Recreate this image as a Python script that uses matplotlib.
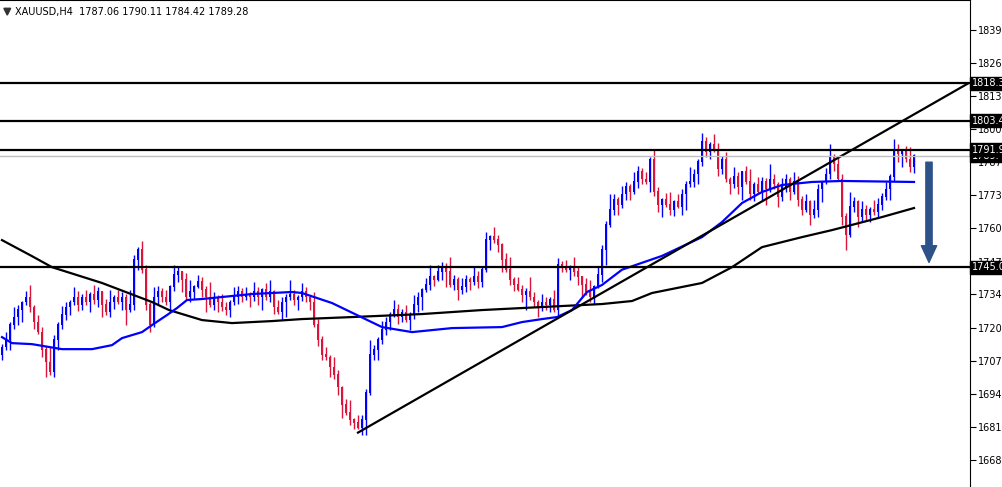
import matplotlib
matplotlib.use("Agg")
import matplotlib.pyplot as plt
import numpy as np

# closing prices, one per H4 candle
closes = [
    1713, 1716, 1722, 1725, 1728, 1731, 1733, 1729, 1723, 1719,
    1712, 1707, 1703, 1716, 1722, 1726, 1729, 1731, 1733, 1730,
    1733, 1731, 1734, 1732, 1735, 1730, 1727, 1731, 1733, 1731,
    1733, 1728, 1730, 1748, 1752, 1744, 1730, 1722, 1733, 1735,
    1733, 1731, 1737, 1742, 1743, 1740, 1733, 1735, 1737, 1739,
    1736, 1733, 1730, 1733, 1731, 1729, 1728, 1731, 1733, 1735,
    1733, 1734, 1733, 1735, 1733, 1736, 1733, 1735, 1729, 1727,
    1731, 1733, 1734, 1732, 1733, 1735, 1733, 1731, 1722, 1716,
    1710, 1709, 1705, 1702, 1697, 1690, 1687, 1684, 1683, 1681,
    1684, 1695, 1710, 1712, 1716, 1720, 1723, 1726, 1728, 1725,
    1727, 1724, 1726, 1730, 1733, 1736, 1738, 1741, 1740, 1743,
    1745, 1743, 1738, 1740, 1736, 1737, 1740, 1739, 1741, 1739,
    1744, 1756, 1757, 1756, 1754, 1748, 1744, 1740, 1738, 1736,
    1734, 1735, 1733, 1731, 1729, 1731, 1730, 1732, 1728, 1746,
    1745, 1744, 1745, 1743, 1741, 1738, 1735, 1733, 1737, 1742,
    1752, 1762, 1768, 1772, 1770, 1774, 1777, 1775, 1779, 1783,
    1780, 1779, 1788, 1775, 1770, 1772, 1770, 1768, 1771, 1769,
    1774, 1778, 1779, 1782, 1787, 1795, 1791, 1794, 1792, 1784,
    1788, 1780, 1778, 1781, 1777, 1783, 1779, 1774, 1778, 1775,
    1779, 1776, 1780, 1778, 1773, 1777, 1780, 1775, 1779, 1772,
    1768, 1771, 1766, 1768, 1776, 1779, 1782, 1789, 1786, 1780,
    1765, 1758, 1769, 1771, 1765, 1768, 1766, 1768, 1767, 1770,
    1773, 1776, 1781, 1792, 1790, 1791, 1788, 1785, 1789.28,
]
first_open = 1710
wick_up = [1.5, 3, 1, 4, 2, 0.5, 2.5, 5, 1, 3, 2, 1.5, 6, 2, 1, 3.5, 2, 1, 4, 2.5]
wick_dn = [2, 1, 4, 1.5, 3, 5, 1, 2, 2.5, 0.5, 3, 6, 1, 2, 4, 1.5, 2, 3, 1, 2.5]

# moving averages: (candle index, price)
ma_blue_x = [0, 2.5, 7.5, 15, 22.5, 27.5, 30, 35, 37.5, 41.25, 43.75, 46.25, 50, 62.5,
             72.5, 75, 82.5, 95, 102.5, 112.5, 125, 130, 135, 138.75, 142.5, 146.25,
             150, 155, 165, 175, 180, 185, 190, 195, 202.5, 210, 228]
ma_blue = [1717.1, 1714.7, 1714.3, 1712.3, 1712.3, 1713.9, 1716.7, 1719.1, 1721.9,
           1725.9, 1728.7, 1731.9, 1732.3, 1734.3, 1735.1, 1734.7, 1730.7, 1721.1,
           1719.1, 1720.7, 1721.1, 1723.1, 1724.3, 1725.1, 1727.9, 1735.1, 1737.9,
           1744.0, 1749.5, 1757.0, 1763.0, 1770.6, 1775.0, 1777.8, 1779.0, 1779.4,
           1779.0]
ma_black_x = [0, 7.5, 12.5, 25, 37.5, 41.75, 50, 57.5, 67.5, 75, 87.5, 105, 120, 135,
              150, 157.5, 162.5, 175, 182.5, 190, 200, 207.5, 220, 228]
ma_black = [1755.8, 1749.4, 1745.0, 1738.7, 1731.1, 1727.9, 1723.9, 1722.7, 1723.5,
            1724.3, 1725.1, 1726.3, 1727.9, 1729.1, 1730.3, 1731.5, 1734.7, 1738.7,
            1745.0, 1753.0, 1757.0, 1759.8, 1765.0, 1768.6]

h_levels = [1818.3, 1803.4, 1791.9, 1745.0]
y_ticks = [1839.6, 1826.6, 1813.3, 1800.0, 1787.1, 1773.8, 1760.5, 1747.2,
           1734.2, 1720.9, 1707.6, 1694.3, 1681.4, 1668.1]
last_price = 1789.4
trend_x = [89, 241.5]
trend_y = [1679.0, 1818.3]

closes = np.array(closes, dtype=float)
opens = np.concatenate([[first_open], closes[:-1]])
n = len(closes)
idx = np.arange(n)
highs = np.maximum(opens, closes) + np.resize(wick_up, n)
lows = np.minimum(opens, closes) - np.resize(wick_dn, n)

fig = plt.figure(figsize=(10.02, 4.87), dpi=100)
ax = fig.add_axes([0, 0, 970 / 1002, 1])

bull = closes >= opens
colors = np.where(bull, "#0000ff", "#dc143c")
ax.vlines(idx, lows, highs, colors=colors, linewidth=1)
ax.bar(idx, np.abs(closes - opens) + 0.3, bottom=np.minimum(opens, closes),
       width=0.7, color=colors, linewidth=0)

ax.plot(ma_black_x, ma_black, color="black", linewidth=1.6)
ax.plot(ma_blue_x, ma_blue, color="#0000ff", linewidth=1.6)
ax.plot(trend_x, trend_y, color="black", linewidth=1.6)
for lv in h_levels:
    ax.axhline(lv, color="black", linewidth=1.6)
ax.axhline(last_price, color="#c0c0c0", linewidth=1)

ax.annotate("", xy=(231.75, 1745.8), xytext=(231.75, 1788),
            arrowprops=dict(arrowstyle="simple,head_width=1.1,head_length=1.2,tail_width=0.45",
                            color="#2c5289"))

ax.set_xlim(-0.5, 242)
ax.set_ylim(1657.3, 1851.6)
ax.set_xticks([])
ax.yaxis.tick_right()
ax.set_yticks(y_ticks)
ax.set_yticklabels([f"{v:.1f}" for v in y_ticks], fontsize=7)
ax.tick_params(axis="y", length=4, pad=1.5)
for s in ["left", "bottom"]:
    ax.spines[s].set_visible(False)

for lv in [last_price] + h_levels:
    ax.text(1.002, lv, f"{lv:.1f}", transform=ax.get_yaxis_transform(),
            fontsize=7, color="white", va="center", ha="left",
            bbox=dict(boxstyle="square,pad=0.15", fc="black", ec="black"))

ax.text(0.015, 0.985, "XAUUSD,H4  1787.06 1790.11 1784.42 1789.28",
        transform=ax.transAxes, fontsize=7, va="top", ha="left")
ax.fill([0.004, 0.011, 0.0075], [0.983, 0.983, 0.969], transform=ax.transAxes,
        color="#333333")

fig.savefig("out.png", dpi=100)
